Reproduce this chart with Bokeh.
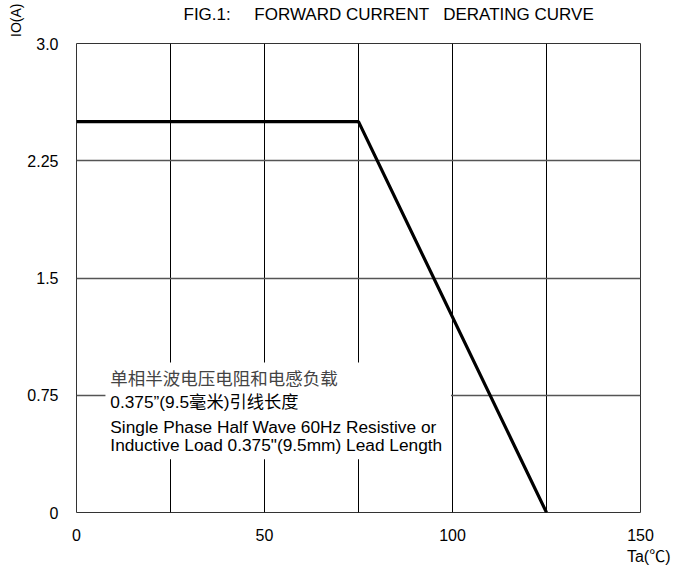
from bokeh.plotting import figure
from bokeh.models import Range1d, FixedTicker, Label, Title
from bokeh.embed import file_html
from bokeh.resources import INLINE

# Data
temps = [0, 75, 125]
currents = [2.5, 2.5, 0]
x_ticks = [0, 50, 100, 150]
x_grid = [25, 50, 75, 100, 125]
y_ticks = [0, 0.75, 1.5, 2.25, 3.0]
y_tick_labels = {3.0: "3.0", 2.25: "2.25", 1.5: "1.5", 0.75: "0.75", 0: "0"}
NB = "\u00a0"
title_text = "FIG.1:" + NB * 5 + "FORWARD" + NB + "CURRENT" + NB * 3 + "DERATING" + NB + "CURVE"
note_lines = [
    "单相半波电压电阻和电感负载",
    "0.375”(9.5毫米)引线长度",
    "Single Phase Half Wave 60Hz Resistive or",
    "Inductive Load 0.375\"(9.5mm) Lead Length",
]
note_y = [0.864, 0.704, 0.544, 0.429]
note_box = dict(left=7.7, right=99.6, bottom=0.34, top=0.96)

FONT = "Liberation Sans"

p = figure(width=673, height=570, output_backend="svg", toolbar_location=None,
           x_range=Range1d(0, 150), y_range=Range1d(0, 3),
           min_border_left=76, min_border_right=33, min_border_top=43,
           min_border_bottom=58)
p.background_fill_color = "white"
p.border_fill_color = "white"
p.outline_line_color = "#333333"
p.outline_line_width = 1

for ax in (p.xaxis[0], p.yaxis[0]):
    ax.axis_line_color = None
    ax.major_tick_line_color = None
    ax.minor_tick_line_color = None
    ax.major_tick_in = 0
    ax.major_tick_out = 0
    ax.major_label_text_font = FONT
    ax.major_label_text_font_size = "16px"
    ax.major_label_text_color = "black"

p.xaxis[0].ticker = FixedTicker(ticks=x_ticks)
p.xaxis[0].major_label_standoff = 16
p.yaxis[0].ticker = FixedTicker(ticks=y_ticks)
p.yaxis[0].major_label_overrides = y_tick_labels
p.yaxis[0].major_label_standoff = 18

p.xgrid[0].ticker = FixedTicker(ticks=x_grid)
p.xgrid[0].grid_line_color = "black"
p.xgrid[0].grid_line_width = 1
p.ygrid[0].ticker = FixedTicker(ticks=y_ticks[1:-1])
p.ygrid[0].grid_line_color = "#555555"
p.ygrid[0].grid_line_width = 1.5

# white note box covering grid
p.quad(left=[note_box["left"]], right=[note_box["right"]],
       bottom=[note_box["bottom"]], top=[note_box["top"]],
       fill_color="white", line_color=None)

# derating curve
p.line(temps, currents, line_color="black", line_width=3.2)

# note text
for i, (t, yy) in enumerate(zip(note_lines, note_y)):
    p.add_layout(Label(x=9.0, y=yy, text=t, text_align="left",
                       text_baseline="middle",
                       text_font=("Noto Sans CJK SC" if i == 0 else FONT + ", Noto Sans CJK SC"),
                       text_font_size=("17.5px" if i == 0 else "17.3px"),
                       text_color=("#444444" if i == 0 else "black")))

# spacer between frame and title (keeps the title near the top edge)
p.add_layout(Title(text=NB, standoff=1, text_font=FONT, text_font_size="16px",
                   text_font_style="normal"), "above")
# title
p.add_layout(Title(text=title_text, align="left", offset=107, standoff=0,
                   text_font=FONT, text_font_size="17px", text_font_style="normal",
                   text_color="black"), "above")
# axis labels
p.add_layout(Title(text="IO(A)", align="right", offset=-40, standoff=2,
                   text_font=FONT, text_font_size="14px", text_font_style="normal",
                   text_color="black"), "left")
p.add_layout(Title(text="Ta(℃)", align="right", offset=-30, standoff=4,
                   text_font=FONT + ", Noto Sans CJK SC", text_font_size="16px",
                   text_font_style="normal", text_color="black"), "below")

open("out.html", "w").write(file_html(p, INLINE))
